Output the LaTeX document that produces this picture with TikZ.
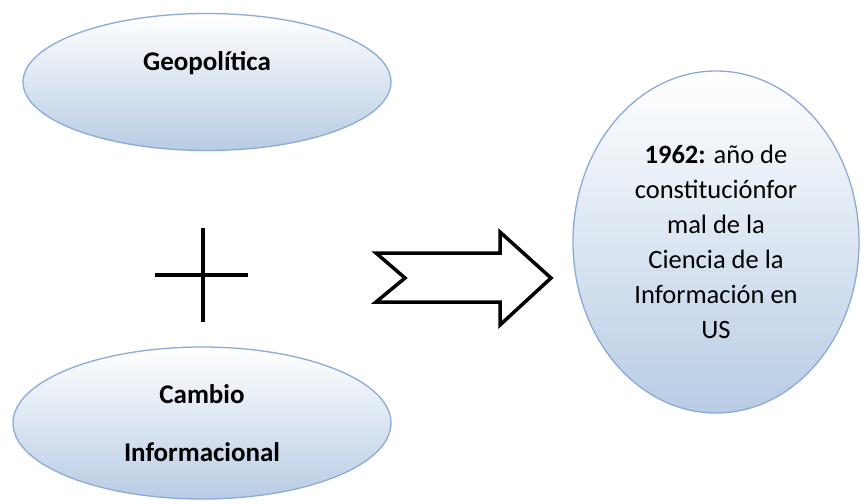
\documentclass[tikz,border=0pt]{standalone}
\usepackage{fontspec}
\setmainfont{Carlito}
\usepackage[svgnames]{xcolor}
\usetikzlibrary{shapes.geometric}

\definecolor{EdgeBlue}{RGB}{140,170,214}
\definecolor{FillBlue}{RGB}{184,204,228}

\begin{document}
\begin{tikzpicture}[x=1pt, y=-1pt, line join=miter,
      every node/.append style={font=\fontsize{27}{32}\selectfont\bfseries}]
    \tikzstyle{bubble} = [ellipse, draw=EdgeBlue, line width=1.3pt, top color=white, bottom color=FillBlue, inner sep=0pt]
    \tikzstyle{word} = [color=black]
    \useasboundingbox (0,0) rectangle (861,503);
    % left side
    \node (geo) [bubble, minimum width=368, minimum height=137] at (207,82) {};
    \node (geotext) [word] at (207,63) {Geopolítica};
    \node (cambio) [bubble, minimum width=378, minimum height=152, align=center,
      font=\fontsize{27}{58}\selectfont\bfseries] at (202,423) {Cambio\\Informacional};
    % plus sign
    \coordinate (plustop) at (203,228);
    \coordinate (plusbot) at (203,322);
    \coordinate (plusleft) at (155,275);
    \coordinate (plusright) at (248,275);
    \draw[line width=4pt] (plustop) -- (plusbot);
    \draw[line width=4pt] (plusleft) -- (plusright);
    % block arrow
    \draw[line width=3.5pt] (376,253) -- (500,253) -- (500,232) -- (551,278) -- (500,325)
      -- (500,302) -- (376,302) -- (405,278) -- cycle;
    % result
    \node (year) [bubble, minimum width=286, minimum height=342, align=center,
      font=\fontsize{26.5}{35}\selectfont] at (716,242)
      {\textbf{1962:} año de\\constituciónfor\\mal de la\\Ciencia de la\\Información en\\US};
\end{tikzpicture}
\end{document}
